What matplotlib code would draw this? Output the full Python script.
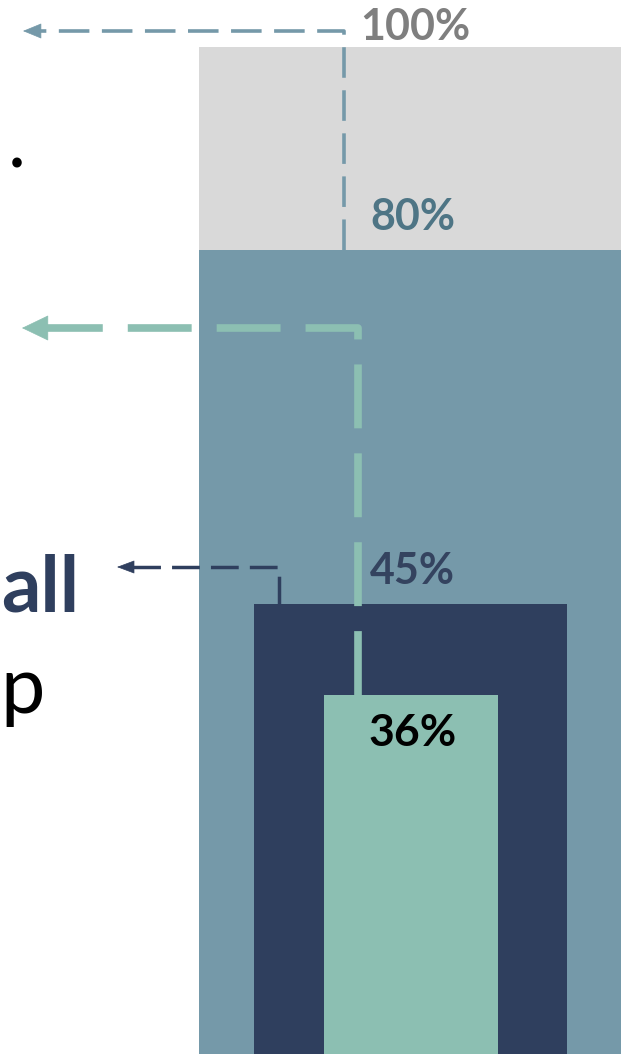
import matplotlib
matplotlib.use("Agg")
import matplotlib.pyplot as plt
from matplotlib.patches import FancyArrowPatch

plt.rcParams['lines.scale_dashes'] = False

# values
labels = ["100%", "80%", "45%", "36%"]
values = [100, 80, 45, 36]
bar_colors = ["#D9D9D9", "#7599A9", "#2F3F5E", "#8CBFB2"]
label_colors = ["#7F7F7F", "#4E7585", "#34435F", "#000000"]
side_text = [".", "all", "p"]

# the axis runs in pixels across and in percent up
def yv(py):
    # pixel row (from top) -> percent value on this axis
    return (1059.3 - py) / 10.12

fig = plt.figure(figsize=(6.28, 10.54), dpi=100)
ax = fig.add_axes([0, 0, 1, 1])
ax.set_xlim(0, 628)
ax.set_ylim(yv(1054), yv(0))
ax.axis("off")

# nested bars, widest first
centers = [410, 410, 410.5, 411]
widths = [422, 422, 313, 174]
for v, c, x, w in zip(values, bar_colors, centers, widths):
    ax.bar(x, v, width=w, color=c, zorder=1)

# dashed leader lines with arrow heads
def leader(x0, v0, v1, x_tip, color, lw, dashes, head_len, head_w):
    ax.plot([x0, x0, x_tip + head_len], [v0, v1, v1], color=color, lw=lw,
            dashes=dashes, solid_capstyle="butt", zorder=3)
    arr = FancyArrowPatch((x_tip + head_len, v1), (x_tip, v1),
                          arrowstyle=f"-|>,head_length={head_len * 0.72},head_width={head_w * 0.72}",
                          mutation_scale=1, color=color, lw=0.5, shrinkA=0, shrinkB=0, zorder=3)
    ax.add_patch(arr)

leader(344, values[1], yv(31), 23, "#7599A9", 2.6, (22, 9), 17, 7)
leader(358, values[3], yv(328), 22, "#8CBFB2", 5.5, (46, 18), 25, 12)
leader(279, values[2], yv(567), 117, "#2F3F5E", 2.5, (20, 8), 16, 6)

# value labels
font = "Lato"
ax.text(360, values[0], labels[0], color=label_colors[0], fontsize=31, fontweight="bold",
        family=font, ha="left", va="bottom", zorder=4)
ax.annotate(labels[1], (370, values[1]), xytext=(0, 9), textcoords="offset points",
            color=label_colors[1], fontsize=31, fontweight="bold", family=font,
            ha="left", va="bottom", zorder=4)
ax.annotate(labels[2], (370, values[2]), xytext=(0, 9), textcoords="offset points",
            color=label_colors[2], fontsize=31, fontweight="bold", family=font,
            ha="left", va="bottom", zorder=4)
ax.annotate(labels[3], (413, values[3]), xytext=(0, -13), textcoords="offset points",
            color=label_colors[3], fontsize=32, fontweight="bold", family=font,
            ha="center", va="top", zorder=4)

# partly hidden text on the left
ax.text(8, yv(167), side_text[0], color="black", fontsize=55, family=font, ha="left", va="baseline")
ax.text(1, yv(612), side_text[1], color="#2F3F5E", fontsize=56, fontweight="bold", family=font,
        ha="left", va="baseline")
ax.text(0, yv(713), side_text[2], color="black", fontsize=57, family=font, ha="left", va="baseline")

fig.savefig("out.png", dpi=100)
